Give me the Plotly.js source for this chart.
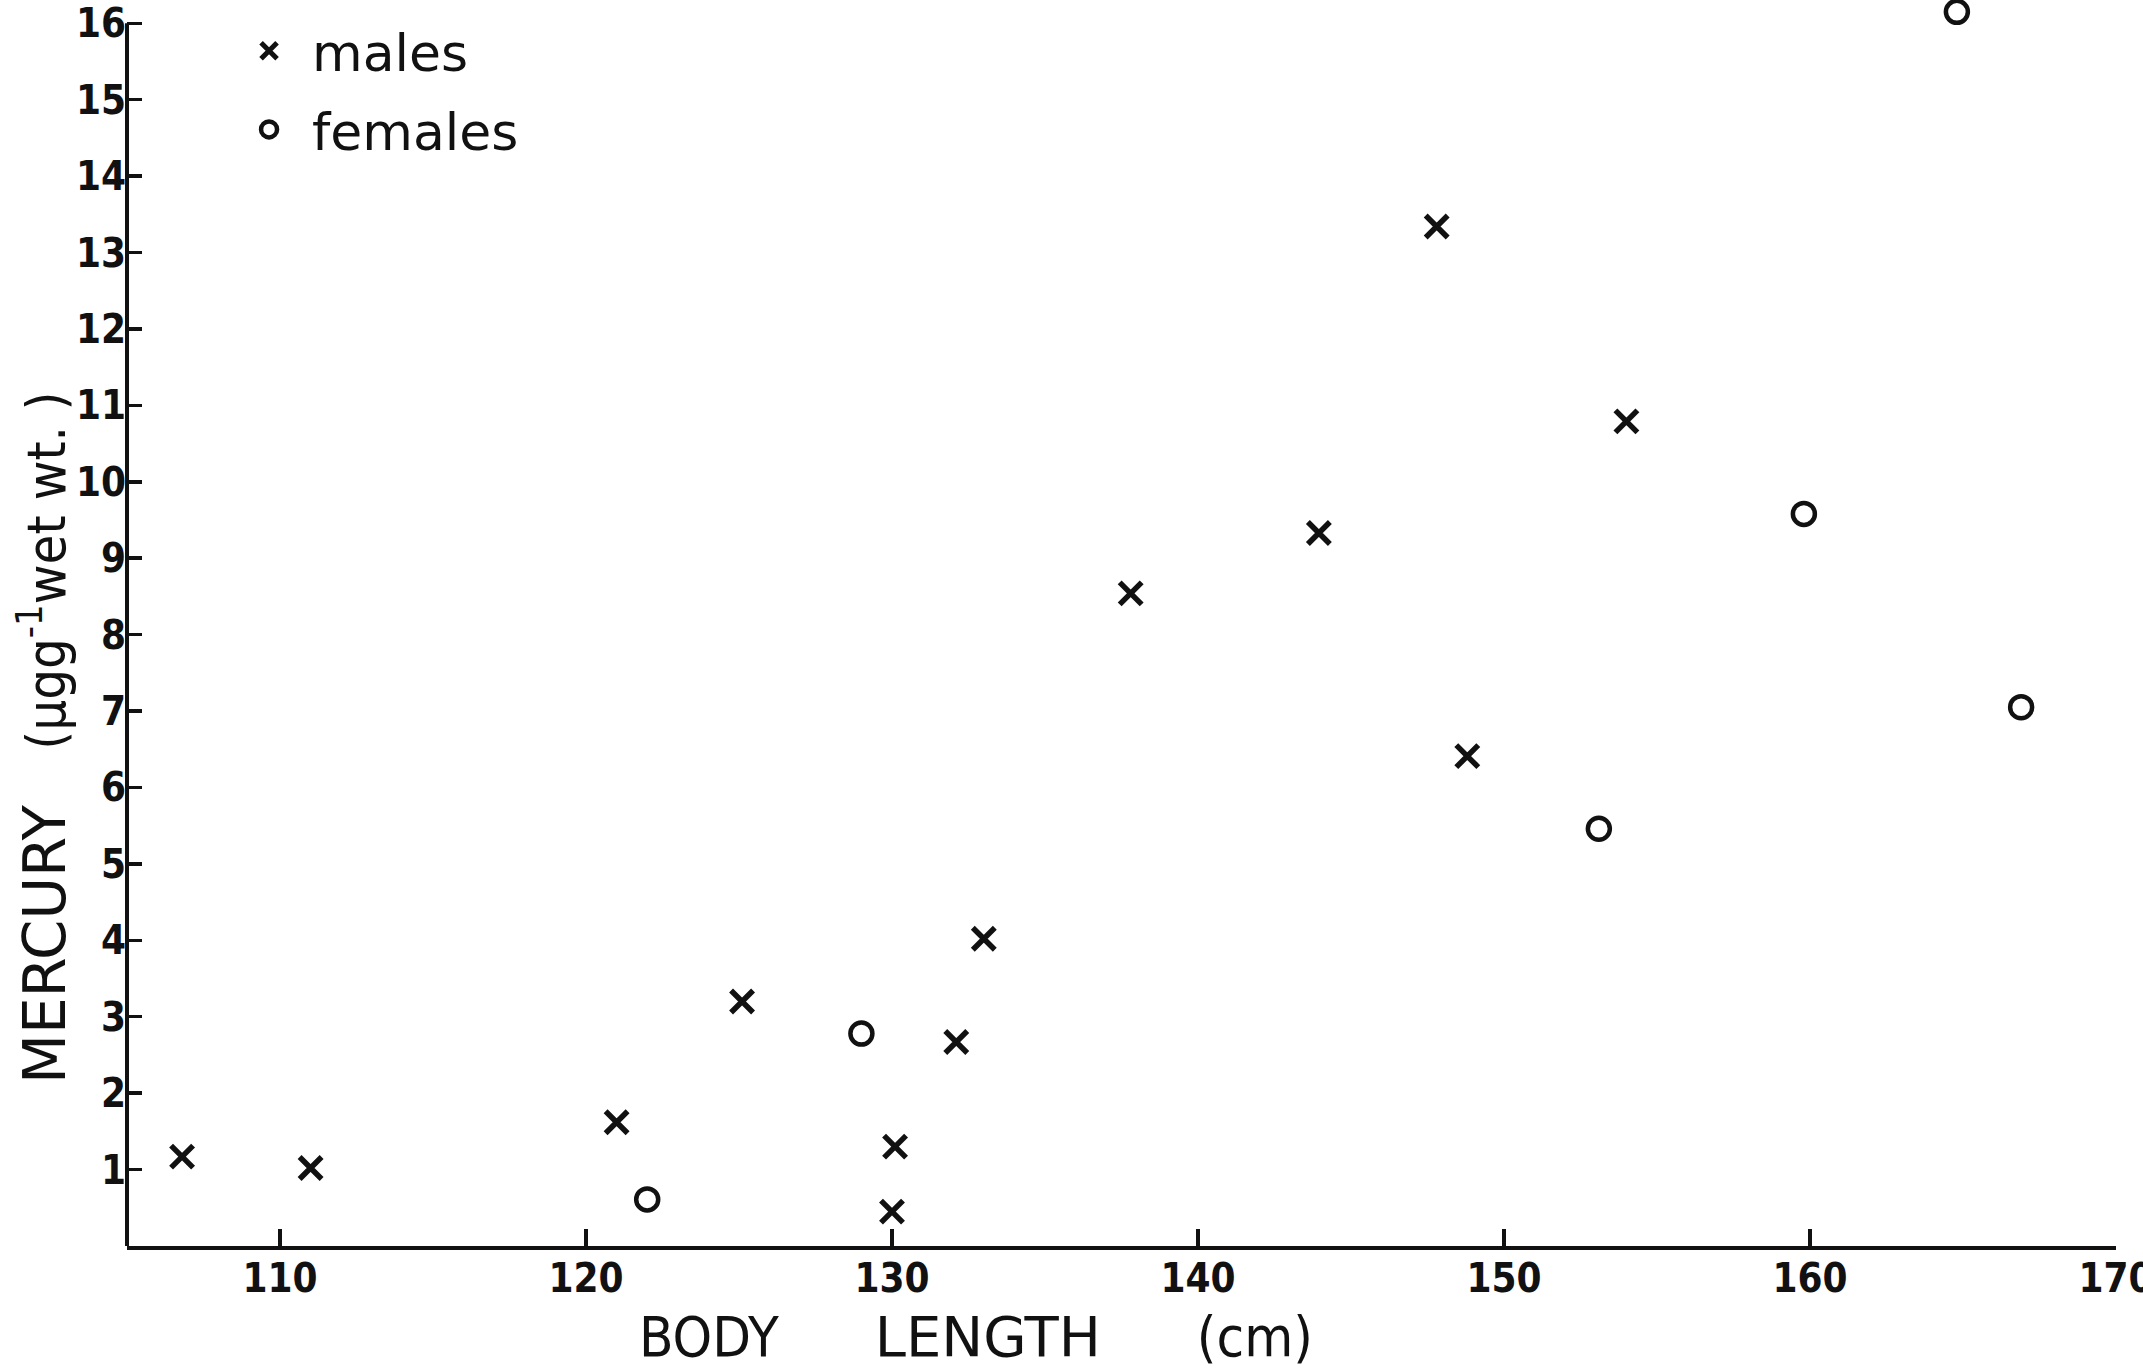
<!DOCTYPE html>
<html>
<head>
<meta charset="utf-8">
<script src="https://cdn.plot.ly/plotly-3.0.1.min.js"></script>
<style>
  html, body { margin: 0; padding: 0; background: #ffffff; }
  #chart { width: 2143px; height: 1368px; }
</style>
</head>
<body>
<div id="chart"></div>
<script>
// Data
const malesLength   = [106.8, 111.0, 121.0, 125.1, 130.1, 130.0, 132.1, 133.0, 137.8, 143.95, 147.8, 148.8, 154.0];
const malesMercury  = [1.17, 1.02, 1.62, 3.20, 1.30, 0.45, 2.67, 4.02, 8.54, 9.33, 13.34, 6.41, 10.79];
const femalesLength  = [122.0, 129.0, 153.1, 159.8, 164.8, 166.9];
const femalesMercury = [0.61, 2.78, 5.46, 9.58, 16.15, 7.05];

const xTicks = [110, 120, 130, 140, 150, 160, 170];
const yTicks = [1, 2, 3, 4, 5, 6, 7, 8, 9, 10, 11, 12, 13, 14, 15, 16];

const cond = "DejaVu Sans Condensed, DejaVu Sans, sans-serif";
const reg = "DejaVu Sans, sans-serif";
const nb = "\u00a0";

const traces = [
  {
    type: "scatter", mode: "markers", name: "males",
    x: malesLength, y: malesMercury,
    legendgroup: "m",
    cliponaxis: false,
    marker: { symbol: "x-thin-open", size: 22, color: "#111", line: { width: 5.5, color: "#111" } }
  },
  {
    type: "scatter", mode: "markers", name: "females",
    x: femalesLength, y: femalesMercury,
    legendgroup: "f",
    cliponaxis: false,
    marker: { symbol: "circle-open", size: 22, color: "#111", line: { width: 4.5, color: "#111" } }
  }
];

const layout = {
  width: 2143, height: 1368,
  margin: { l: 127, r: 27, t: 8, b: 122, pad: 0 },
  paper_bgcolor: "#ffffff", plot_bgcolor: "#ffffff",
  showlegend: true,
  legend: {
    x: 0.0498, y: 0.998, xanchor: "left", yanchor: "top",
    bgcolor: "rgba(0,0,0,0)", borderwidth: 0,
    font: { family: reg, size: 52, color: "#111" },
    itemwidth: 76,
    traceorder: "grouped", tracegroupgap: 8
  },
  xaxis: {
    range: [105, 170], tickmode: "array", tickvals: xTicks, ticktext: xTicks.map(String),
    ticks: "inside", ticklen: 17, tickwidth: 3.5, tickcolor: "#111",
    showline: true, linewidth: 4, linecolor: "#111",
    showgrid: false, zeroline: false,
    ticklabeloverflow: "allow",
    ticklabelstandoff: -6,
    tickfont: { family: cond, size: 40, color: "#111", weight: "bold" }
  },
  yaxis: {
    range: [0, 16.2], tickmode: "array", tickvals: yTicks, ticktext: yTicks.map(String),
    ticks: "inside", ticklen: 15, tickwidth: 3.5, tickcolor: "#111",
    showline: false,
    showgrid: false, zeroline: false,
    tickfont: { family: cond, size: 40, color: "#111", weight: "bold" }
  },
  shapes: [
    {
      type: "line", xref: "paper", yref: "y", x0: 0, x1: 0, y0: 0, y1: 16,
      line: { color: "#111", width: 4 }
    }
  ],
  annotations: [
    {
      xref: "paper", yref: "paper", x: 0.4268, y: -0.0735,
      xanchor: "center", yanchor: "middle", showarrow: false,
      text: "BODY" + nb.repeat(6) + "<span style=\"font-family:DejaVu Sans\">LENGTH</span>" + nb.repeat(6) + "(cm)",
      font: { family: cond, size: 56, color: "#111" }
    },
    {
      xref: "paper", yref: "paper", x: -0.0422, y: 0.4103,
      xanchor: "center", yanchor: "middle", showarrow: false, textangle: -90,
      text: "MERCURY" + nb.repeat(3) +
            "<span style=\"font-family:DejaVu Sans Condensed;font-size:54px\">(µgg<sup>-1</sup>wet wt." + nb + ")</span>",
      font: { family: reg, size: 58, color: "#111" }
    }
  ]
};

Plotly.newPlot("chart", traces, layout, { displayModeBar: false, staticPlot: true });
</script>
</body>
</html>
